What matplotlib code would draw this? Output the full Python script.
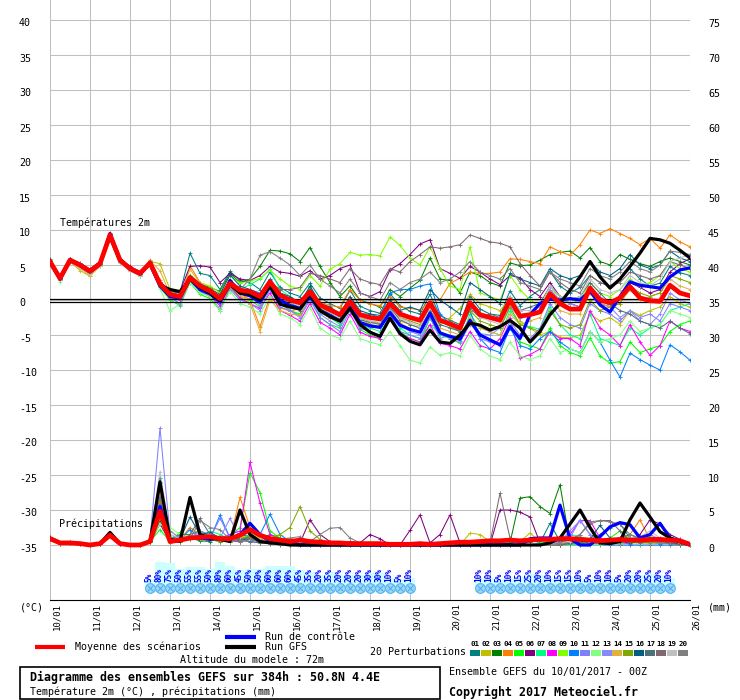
import matplotlib
matplotlib.use("Agg")
import matplotlib.pyplot as plt
import numpy as np
from matplotlib.patches import Rectangle
from matplotlib.transforms import ScaledTranslation

plt.rcParams['font.family'] = ['DejaVu Sans Mono', 'DejaVu Sans']

# ------------------------------------------------------------------ data
dates = ["10/01", "11/01", "12/01", "13/01", "14/01", "15/01", "16/01", "17/01", "18/01",
         "19/01", "20/01", "21/01", "22/01", "23/01", "24/01", "25/01", "26/01"]
temp_ticks = [-35, -30, -25, -20, -15, -10, -5, 0, 5, 10, 15, 20, 25, 30, 35, 40]
precip_ticks = [0, 5, 10, 15, 20, 25, 30, 35, 40, 45, 50, 55, 60, 65, 70, 75]
member_ids = ["01", "02", "03", "04", "05", "06", "07", "08", "09", "10",
              "11", "12", "13", "14", "15", "16", "17", "18", "19", "20"]
member_colors = ['#008080', '#c0c000', '#008000', '#ff8000', '#00ff00', '#800080', '#00ff80',
                 '#ff00ff', '#80ff00', '#0080ff', '#8080ff', '#80ff80', '#8888ff', '#e0b040',
                 '#80a800', '#006080', '#507078', '#806870', '#c0c0c0', '#808080']

# temperature (deg C), 6-hourly from 10/01 00Z, 65 values
temp_mean = [5.5, 3.1, 5.7, 5.0, 4.1, 5.2, 9.3, 5.7, 4.5, 3.8, 5.3, 2.3, 0.8, 0.5, 3.2, 2.0,
             1.3, 0.2, 2.4, 1.4, 1.2, 0.5, 2.6, 0.7, 0.0, -0.4, 1.2, -0.7, -1.4, -2.1, -0.2, -2.1,
             -2.5, -2.7, -0.5, -2.0, -2.5, -2.9, -0.4, -2.9, -3.4, -4.0, -0.4, -2.1, -2.5, -2.9, 0.0, -2.3,
             -2.1, -1.7, 0.9, -0.5, -1.3, -1.3, 1.7, 0.0, -0.4, 0.3, 1.9, 0.3, -0.1, -0.2, 2.1, 1.0, 0.6]
temp_control = [5.4, 3.0, 5.8, 4.9, 4.0, 5.1, 9.5, 5.8, 4.4, 3.7, 5.2, 2.0, 0.5, 0.3, 3.0, 1.5,
                0.9, -0.3, 2.8, 1.0, 0.6, -0.3, 2.0, 0.0, -0.8, -1.2, 0.5, -1.5, -2.2, -3.0, -1.0, -3.2,
                -3.7, -3.9, -1.8, -3.6, -4.2, -4.6, -1.9, -4.7, -5.2, -5.6, -2.9, -5.0, -5.7, -6.4, -3.8, -5.5,
                -2.1, -0.5, 0.1, 0.0, 0.2, 0.0, 1.3, -0.7, -1.7, 0.5, 2.6, 2.1, 1.9, 1.7, 3.3, 4.3, 4.6]
temp_gfs = [5.5, 3.0, 5.6, 5.0, 4.2, 5.3, 9.0, 5.6, 4.6, 3.9, 5.2, 2.1, 1.5, 1.2, 3.0, 1.8,
            1.0, -0.1, 2.2, 1.0, 0.8, 0.0, 2.0, -0.6, -1.0, -1.3, 0.8, -1.5, -2.4, -3.0, -1.2, -3.5,
            -4.6, -5.2, -2.6, -4.8, -5.9, -6.4, -4.3, -6.0, -6.2, -5.0, -3.3, -3.6, -4.3, -3.8, -2.9, -4.0,
            -6.0, -4.5, -2.1, -0.5, 1.4, 3.3, 5.5, 3.3, 1.7, 3.0, 4.8, 6.7, 8.8, 8.6, 8.1, 7.1, 6.0]

temp_m01 = [5.8, 3.0, 5.9, 5.2, 4.3, 5.3, 9.6, 5.9, 4.7, 3.9, 5.4, 2.6, 1.2, 1.0, 6.7, 3.8,
            3.5, 1.5, 4.1, 2.8, 2.5, 1.5, 4.0, 1.8, 1.0, 0.5, 2.4, 0.3, -0.5, -1.2, 1.4, -0.9,
            -1.5, -1.9, 0.9, -0.8, -1.6, -2.0, 0.8, -2.2, -2.9, -3.5, 0.6, -1.3, -2.0, -2.2, 1.3, -0.8,
            0.5, 1.5, 4.1, 2.0, 1.0, 1.8, 3.5, 2.5, 2.0, 3.0, 4.5, 3.0, 2.0, 2.4, 4.8, 3.9, 3.5]
temp_m02 = [5.3, 3.2, 5.5, 4.2, 3.4, 4.9, 9.0, 5.4, 4.3, 3.7, 5.5, 5.2, 1.5, 0.2, 2.9, 1.8,
            0.6, -0.5, 2.0, 0.5, 0.2, -0.4, 1.9, -0.3, -1.5, -2.2, 0.6, -1.0, -2.0, -3.5, -1.0, -2.8,
            -3.4, -4.0, -1.6, -3.3, -4.1, -4.6, -1.8, -3.6, -2.5, -1.2, 0.8, -0.5, -1.0, -1.5, 0.2, -3.0,
            -4.0, -5.0, -4.5, -5.3, -5.4, -5.0, -2.0, -3.0, -2.5, -3.5, -1.5, -2.2, -1.5, -1.0, 0.5, -0.5, -1.0]
temp_m03 = [5.6, 3.3, 5.9, 5.1, 4.2, 5.4, 9.4, 5.8, 4.6, 3.9, 5.4, 2.4, 0.5, 0.2, 3.3, 2.2,
            1.8, 1.2, 3.8, 2.5, 3.0, 4.8, 7.1, 7.0, 6.6, 5.5, 7.5, 4.8, 2.5, 0.5, 2.0, 0.0,
            -0.5, -1.0, 1.5, 0.5, 1.7, 2.8, 6.0, 3.0, 2.8, 1.0, 4.0, 3.5, 2.5, 2.0, 5.3, 4.9,
            5.0, 5.7, 6.5, 6.8, 7.0, 6.0, 7.5, 5.5, 5.0, 6.5, 5.8, 5.2, 4.8, 5.5, 6.0, 5.5, 5.0]
temp_m04 = [5.4, 3.0, 5.6, 4.9, 4.3, 5.0, 9.1, 5.6, 4.4, 3.6, 5.7, 2.8, 0.2, 0.1, 4.9, 2.5,
            1.9, -0.2, 2.8, 1.0, 0.0, -3.8, 0.5, -1.1, -1.6, -1.2, 1.9, -0.3, -0.8, -1.0, 1.5, 0.0,
            -0.6, -0.8, 0.5, -1.0, -1.2, -1.4, -0.2, 0.0, 2.4, 3.1, 4.0, 3.8, 3.8, 4.0, 5.9, 5.8,
            5.5, 5.2, 7.6, 6.9, 6.4, 7.9, 10.0, 9.5, 10.2, 9.5, 8.8, 7.9, 8.8, 7.4, 9.3, 8.3, 7.6]
temp_m05 = [5.2, 2.9, 5.8, 4.8, 3.9, 5.0, 9.2, 5.5, 4.3, 3.5, 5.0, 1.8, 0.0, -0.8, 2.5, 0.8,
            0.2, -1.5, 1.8, 0.2, 0.0, -1.0, 2.0, -0.5, -1.5, -2.0, 0.5, -2.5, -3.5, -4.0, -1.0, -4.2,
            -5.0, -5.5, -2.5, -4.5, -5.5, -6.0, -2.6, -5.0, -5.5, -6.2, -2.8, -5.0, -5.7, -6.3, -3.5, -6.0,
            -6.5, -7.0, -4.0, -6.5, -7.5, -8.0, -5.4, -8.0, -9.0, -8.8, -6.0, -7.5, -7.0, -6.5, -4.5, -3.5, -3.0]
temp_m06 = [5.6, 3.2, 5.9, 5.3, 4.4, 5.5, 9.4, 5.9, 4.8, 3.8, 5.6, 2.6, 1.4, 1.3, 4.8, 4.9,
            4.7, 2.5, 3.8, 3.0, 2.8, 3.5, 4.8, 4.0, 3.8, 3.4, 4.2, 3.0, 3.5, 4.5, 5.0, 1.0,
            0.5, 1.2, 4.3, 5.2, 6.5, 8.0, 8.6, 4.5, 3.8, 3.1, 4.8, 4.0, 3.0, 2.2, 3.5, 3.2,
            1.5, 0.5, 2.5, 0.5, -0.5, -1.0, 1.5, -0.5, -1.0, 0.5, 2.5, 1.8, 1.0, 1.5, 4.0, 5.2, 5.9]
temp_m07 = [5.3, 3.1, 5.6, 4.9, 4.0, 5.1, 9.2, 5.6, 4.4, 3.6, 5.1, 2.0, 0.6, 0.4, 3.3, 1.5,
            0.8, -0.5, 2.9, 1.5, 2.2, 3.0, 4.4, 1.5, 0.5, -0.5, 1.8, -1.8, -2.5, -3.5, -0.8, -3.5,
            -4.0, -4.5, -1.5, -4.0, -5.0, -5.5, -3.5, -4.8, -5.2, -5.8, -2.0, -4.0, -4.5, -5.0, -1.5, -3.5,
            -3.8, -4.2, -1.0, -3.5, -5.0, -5.5, -2.0, -5.5, -6.0, -6.5, -4.0, -5.0, -4.0, -3.5, -1.5, -1.0, -0.5]
temp_m08 = [5.4, 3.0, 5.7, 4.9, 4.0, 5.2, 9.3, 5.6, 4.5, 3.7, 5.3, 2.1, 0.4, 0.0, 3.0, 1.4,
            0.5, -0.8, 2.0, 0.3, -0.5, -1.2, 1.0, -1.5, -2.2, -3.0, -0.5, -3.2, -4.0, -5.0, -2.0, -4.6,
            -5.2, -5.5, -2.7, -4.8, -5.5, -6.0, -3.5, -6.2, -6.5, -7.0, -4.5, -6.5, -7.0, -5.5, -2.5, -8.3,
            -7.8, -7.0, -4.5, -5.5, -5.5, -6.5, -1.5, -4.0, -5.0, -6.5, -3.5, -6.0, -7.9, -6.5, -3.0, -4.0, -4.5]
temp_m09 = [5.5, 3.2, 5.8, 5.1, 4.2, 5.3, 9.3, 5.8, 4.6, 3.9, 5.4, 2.4, 0.9, 0.3, 3.6, 2.4,
            2.0, 1.0, 3.5, 2.4, 2.7, 3.1, 4.3, 3.0, 2.0, 1.5, 3.5, 2.0, 4.4, 5.2, 6.8, 6.4,
            6.5, 6.3, 9.0, 7.8, 6.0, 5.0, 7.6, 4.5, 2.0, 1.5, 7.6, 1.0, 0.5, 0.0, 3.5, 1.5,
            0.0, -1.0, 1.5, 0.5, -0.5, 0.0, 2.5, 1.0, 0.5, 1.5, 3.0, 2.0, 2.5, 3.5, 5.5, 4.5, 4.0]
temp_m10 = [5.5, 3.0, 5.6, 5.0, 4.1, 5.1, 9.2, 5.7, 4.5, 3.8, 5.2, 2.2, 0.7, 0.3, 3.1, 1.9,
            1.2, 0.0, 2.7, 1.2, 1.5, 1.0, 2.8, 0.5, -0.5, -1.0, 1.5, -0.5, -1.5, -2.5, -0.5, -2.0,
            -2.0, -2.5, 1.0, 1.5, 1.5, 2.0, 2.3, -2.0, -3.5, -4.5, -1.5, -5.5, -7.0, -7.5, -4.0, -6.5,
            -7.0, -5.5, -4.5, -6.0, -7.0, -7.5, -4.5, -6.0, -8.6, -11.0, -7.6, -8.5, -9.3, -10.0, -6.4, -7.4, -8.6]
temp_m11 = [5.3, 2.8, 5.5, 4.8, 3.8, 4.9, 9.0, 5.5, 4.3, 3.6, 5.1, 2.1, 0.3, -0.5, 2.8, 1.2,
            0.5, -1.3, 1.5, 0.0, -0.5, -1.5, 1.5, -1.0, -1.5, -2.5, 0.0, -2.5, -3.5, -4.5, -1.5, -4.0,
            -4.5, -5.0, -2.0, -4.5, -5.0, -5.5, -2.5, -5.5, -5.0, -5.8, -3.0, -5.5, -6.0, -6.5, -3.0, -5.0,
            -5.5, -4.0, -0.5, -2.5, -3.5, -4.0, -0.5, -1.5, -2.0, -3.0, -1.5, -2.5, -2.0, -3.0, -0.5, -1.0, -1.5]
temp_m12 = [5.4, 2.6, 5.6, 4.7, 3.6, 4.8, 8.8, 5.4, 4.2, 3.5, 5.0, 1.6, -1.6, -0.5, 2.5, 1.0,
            0.5, -1.5, 1.2, -0.5, -1.0, -2.0, 0.5, -2.0, -2.5, -3.5, -1.0, -4.0, -5.0, -5.5, -3.0, -5.5,
            -6.0, -6.4, -4.5, -6.5, -8.6, -9.0, -6.7, -7.9, -7.5, -8.0, -5.0, -7.0, -8.0, -8.5, -6.0, -8.0,
            -8.5, -8.0, -5.5, -7.5, -7.0, -7.5, -4.5, -6.0, -5.5, -5.0, -3.0, -4.5, -4.0, -3.5, -1.5, -2.0, -2.5]
temp_m13 = [5.6, 3.1, 5.8, 5.1, 4.2, 5.3, 9.5, 5.8, 4.6, 3.9, 5.4, 2.5, 0.6, -0.7, 3.0, 1.7,
            1.0, -0.2, 2.3, 1.3, 0.6, -0.8, 1.9, -0.5, -1.5, -2.3, 0.2, -2.0, -3.0, -3.8, -1.0, -3.2,
            -3.8, -4.0, -1.2, -3.5, -4.5, -5.0, -2.0, -4.5, -5.5, -6.0, -3.5, -4.8, -5.0, -4.0, -1.0, -2.5,
            -2.0, -1.5, 1.5, 0.0, -0.5, -1.0, 2.0, 0.5, -1.0, -2.5, -1.5, -3.0, -3.5, -2.0, 1.0, 0.0, -0.5]
temp_m14 = [5.2, 3.3, 5.4, 4.5, 3.5, 4.8, 9.0, 5.3, 4.2, 3.4, 5.6, 4.2, 0.8, 0.4, 4.4, 2.4,
            1.5, 0.2, 2.0, 0.8, -0.5, -4.5, 0.0, -1.5, -2.0, -2.2, 0.8, -1.5, -2.5, -3.0, -0.5, -2.5,
            -3.0, -3.5, -1.0, -3.0, -3.5, -4.0, -1.8, -4.0, -4.5, -5.0, -2.5, -4.0, -4.5, -5.0, -2.0, -3.5,
            -3.0, -2.5, 0.5, -1.5, -2.0, -2.0, 1.0, -0.5, -1.0, -0.5, 1.5, 0.0, 0.5, 1.0, 3.0, 2.0, 1.5]
temp_m15 = [5.5, 3.1, 5.6, 5.0, 4.0, 5.1, 9.2, 5.7, 4.4, 3.7, 5.2, 2.2, 0.8, 0.6, 3.1, 2.0,
            1.4, 0.4, 2.7, 1.6, 1.0, 0.0, 2.3, 0.2, -0.5, -1.2, 1.2, -1.2, -2.0, -2.8, -0.3, -2.6,
            -3.0, -3.3, -0.8, -2.5, -3.0, -3.5, -1.0, -3.0, -3.8, -4.5, -1.5, -3.0, -3.5, -4.0, -1.0, -3.5,
            -4.0, -4.5, -1.5, -3.5, -4.0, -3.5, 0.0, -1.5, -1.0, -0.5, 2.0, 1.0, 0.5, 1.0, 3.5, 3.0, 2.5]
temp_m16 = [5.7, 3.2, 5.8, 5.2, 4.3, 5.4, 9.4, 5.9, 4.7, 4.0, 5.5, 2.5, 1.0, 0.7, 3.5, 2.3,
            1.6, 0.8, 3.6, 2.0, 1.5, 0.8, 3.0, 1.0, 0.5, -0.5, 2.0, -0.5, -1.0, -2.0, 0.5, -1.5,
            -2.0, -2.2, 0.0, -1.5, -1.0, -1.5, 1.5, 0.0, -1.0, -2.0, 2.5, 1.5, 0.5, -0.5, 3.8, 3.0,
            2.5, 2.0, 4.5, 3.5, 3.0, 3.5, 5.5, 4.0, 3.5, 4.5, 6.5, 5.0, 4.5, 5.0, 7.0, 6.0, 5.5]
temp_m17 = [5.4, 2.9, 5.7, 4.9, 4.1, 5.1, 9.2, 5.6, 4.4, 3.7, 5.2, 2.1, 0.5, 0.2, 3.0, 1.6,
            1.0, -0.3, 2.5, 1.0, 0.8, 0.0, 2.2, 0.0, -0.8, -1.5, 0.8, -1.5, -2.2, -3.0, -0.5, -2.8,
            -3.2, -3.5, -1.0, -2.8, -3.5, -4.0, -1.5, -3.5, -4.0, -4.5, -1.2, -2.5, -2.0, -2.5, 0.5, -1.5,
            -1.0, -0.5, 2.0, 0.5, 0.0, 0.5, 2.5, 1.0, -0.5, -1.5, -2.0, -3.0, -3.5, -4.0, -3.0, -4.0, -4.8]
temp_m18 = [5.5, 3.1, 5.7, 5.0, 4.1, 5.2, 9.3, 5.7, 4.5, 3.8, 5.3, 2.3, 0.8, 0.5, 3.2, 2.0,
            1.3, 0.2, 2.4, 1.4, 1.2, 0.5, 2.6, 1.5, 1.5, 1.8, 3.8, 3.5, 3.0, 2.5, 4.5, 3.0,
            2.5, 2.2, 4.5, 4.0, 5.5, 6.5, 7.6, 7.4, 7.6, 7.9, 9.3, 8.8, 8.3, 8.1, 7.6, 5.2,
            3.5, 2.0, 4.0, 2.5, 1.5, 1.0, 3.5, 2.5, 2.0, 2.5, 4.0, 3.5, 3.0, 3.5, 5.5, 5.0, 4.5]
temp_m19 = [5.3, 2.8, 5.5, 4.6, 3.7, 4.9, 9.0, 5.3, 4.1, 3.5, 5.0, 2.0, 0.6, 0.4, 3.0, 1.8,
            1.1, 0.0, 2.2, 1.2, 1.0, 0.3, 2.3, 0.5, -0.3, -0.9, 1.0, -1.0, -1.8, -2.6, -0.5, -2.5,
            -3.0, -3.2, -0.8, -2.6, -3.2, -3.8, -1.0, -3.0, -3.5, -4.0, -0.5, -2.5, -3.0, -3.5, 0.5, -1.5,
            -1.5, -1.0, 2.0, 0.5, 0.0, 0.5, 3.0, 1.5, 1.0, 1.5, 3.5, 2.5, 2.0, 3.0, 5.5, 6.0, 6.5]
temp_m20 = [5.6, 3.2, 5.8, 5.1, 4.2, 5.3, 9.4, 5.8, 4.6, 3.9, 5.4, 2.4, 0.9, 0.6, 3.3, 2.1,
            1.4, 0.3, 2.5, 1.5, 3.0, 6.4, 6.9, 6.0, 5.0, 3.5, 5.0, 3.0, 2.0, 1.0, 3.0, 1.0,
            0.5, 0.0, 2.5, 1.5, 2.5, 3.0, 4.0, 2.5, 3.0, 4.0, 5.5, 4.0, 3.5, 3.0, 4.5, 2.5,
            2.0, 1.5, 4.0, 3.0, 2.5, 2.0, 4.5, 3.5, 3.0, 4.0, 5.5, 4.5, 4.0, 5.0, 7.0, 6.8, 6.5]

# precipitation (mm / 6h)
precip_mean = [0.9, 0.3, 0.3, 0.2, 0.0, 0.2, 1.4, 0.2, 0.0, 0.0, 0.5, 4.8, 0.5, 0.7, 1.0, 1.1,
               1.2, 0.9, 0.9, 1.4, 2.2, 1.4, 0.9, 0.7, 0.5, 0.7, 0.5, 0.4, 0.3, 0.3, 0.2, 0.2,
               0.2, 0.2, 0.1, 0.1, 0.1, 0.2, 0.1, 0.2, 0.3, 0.4, 0.4, 0.5, 0.6, 0.6, 0.7, 0.6,
               0.7, 0.8, 0.8, 0.9, 0.9, 0.8, 0.7, 0.6, 0.7, 0.8, 0.7, 0.7, 0.8, 0.8, 0.7, 0.6, 0.1]
precip_control = [1.0, 0.3, 0.3, 0.2, 0, 0.2, 1.4, 0.2, 0, 0, 0.5, 5.5, 0.5, 0.8, 1.0, 1.0,
                  0.8, 1.0, 0.8, 1.5, 3.1, 1.5, 0.5, 0.3, 0.2, 0, 0, 0, 0, 0, 0, 0,
                  0, 0, 0, 0, 0, 0, 0, 0, 0, 0, 0, 0, 0, 0, 0, 0,
                  0.9, 1.0, 1.0, 5.7, 0.9, 0, 0, 1.2, 2.6, 3.2, 2.9, 1.0, 1.5, 3.1, 1.0, 0.5, 0]
precip_gfs = [1.0, 0.3, 0.3, 0.2, 0, 0.2, 1.8, 0.2, 0, 0, 0.5, 9.0, 0.8, 0.5, 6.8, 1.5,
              1.0, 0.8, 0.5, 5.0, 1.5, 0.5, 0.3, 0.2, 0, 0, 0, 0, 0, 0, 0, 0,
              0, 0, 0, 0, 0, 0, 0, 0, 0, 0, 0, 0, 0, 0, 0, 0,
              0, 0, 0.3, 1.0, 3.0, 5.0, 2.5, 0.3, 0.2, 0.5, 3.6, 6.0, 4.0, 1.9, 1.0, 0.5, 0]

precip_m01 = [1.0, 0.3, 0.4, 0.2, 0, 0.3, 1.6, 0.3, 0, 0, 0.6, 9.6, 0.8, 0.5, 1.5, 2.0,
              1.2, 0.8, 0.5, 1.2, 2.0, 1.0, 0.5, 0.8, 0.3, 0.2, 0.5, 0.3, 0.2, 0, 0, 0,
              0, 0, 0, 0, 0, 0, 0, 0, 0, 0, 0, 0, 0, 0.2, 0.3, 0.5,
              0.8, 0.3, 3.1, 0.5, 0.2, 0, 0.8, 1.5, 2.5, 3.0, 1.0, 0.5, 0.3, 0.2, 0.5, 0.3, 0]
precip_m02 = [0.8, 0.2, 0.3, 0.3, 0, 0.2, 1.5, 0.2, 0, 0, 0.4, 5.5, 0.3, 0.5, 0.8, 1.5,
              0.8, 0.5, 0.7, 1.0, 1.5, 0.6, 0.3, 0.5, 0.8, 0.5, 0.3, 0.2, 0, 0, 0, 0,
              0, 0, 0, 0, 0, 0, 0, 0, 0, 0, 1.7, 1.5, 0.5, 0, 0.8, 0.5,
              1.7, 0.5, 0.3, 0, 0, 0.5, 1.0, 0.5, 0.3, 0.2, 0.5, 0.3, 0.5, 0.8, 0.5, 0.2, 0]
precip_m03 = [0.9, 0.3, 0.3, 0.2, 0, 0.2, 1.4, 0.3, 0, 0, 0.5, 3.5, 0.8, 0.5, 1.0, 0.6,
              0.5, 1.0, 0.6, 0.8, 1.2, 0.8, 1.5, 1.0, 0.5, 0.3, 0.2, 0.2, 0, 0, 0, 0,
              0, 0, 0, 0, 0, 0, 0, 0, 0, 0, 0, 0, 0, 0, 0.3, 6.7,
              6.9, 5.5, 4.5, 8.6, 0.3, 0.2, 0.5, 0.3, 0.5, 0.3, 0.8, 0.5, 0.8, 1.0, 0.5, 0.3, 0]
precip_m04 = [1.0, 0.3, 0.3, 0.2, 0, 0.2, 1.2, 0.2, 0, 0, 0.6, 7.5, 0.5, 0.8, 2.5, 1.5,
              1.0, 1.2, 0.8, 6.8, 2.5, 0.8, 0.5, 0.3, 0.2, 0.3, 0.2, 0, 0, 0, 0, 0,
              0, 0, 0, 0, 0, 0, 0, 0, 0, 0, 0, 0, 0, 0, 0, 0,
              0, 0, 0, 0.3, 0.8, 0.5, 0.3, 0.2, 0.5, 0.8, 1.5, 3.6, 0.8, 0.5, 0.3, 0.2, 0]
precip_m05 = [0.9, 0.2, 0.3, 0.2, 0, 0.2, 1.3, 0.2, 0, 0, 0.5, 2.2, 0.5, 1.8, 0.8, 1.0,
              0.8, 0.5, 1.2, 2.5, 10.3, 7.5, 2.0, 1.0, 0.8, 0.5, 0.3, 0.2, 0, 0, 0, 0,
              0, 0, 0, 0, 0, 0, 0, 0, 0, 0, 0, 0, 0, 0, 0, 0,
              0, 0, 0, 0, 0, 0, 0.3, 0.5, 1.0, 2.0, 0.8, 0.5, 1.2, 0.8, 0.5, 0.3, 0]
precip_m06 = [1.1, 0.3, 0.4, 0.2, 0, 0.3, 1.5, 0.3, 0, 0, 0.4, 3.0, 0.5, 0.8, 1.2, 0.8,
              1.5, 0.8, 0.6, 0.5, 0.8, 0.5, 0.4, 0.8, 0.5, 0.3, 3.6, 1.5, 0.5, 0, 0.5, 0.3,
              1.5, 0.9, 0, 0, 2.1, 4.3, 0.3, 1.5, 4.3, 0.3, 0, 0, 0, 5.0, 5.0, 4.7,
              4.0, 0.3, 0.2, 0.5, 0.3, 0.2, 0.5, 0.8, 0.5, 1.0, 0.8, 1.5, 3.6, 3.0, 1.5, 0.8, 0]
precip_m07 = [0.9, 0.2, 0.3, 0.3, 0, 0.2, 1.6, 0.2, 0, 0, 0.5, 4.5, 1.2, 0.8, 1.5, 1.0,
              2.0, 1.5, 0.8, 0.6, 1.0, 1.5, 0.8, 0.3, 0.5, 0.2, 0, 0, 0, 0, 0, 0,
              0, 0, 0, 0, 0, 0, 0, 0, 0, 0, 0, 0, 0, 0, 0, 0,
              0, 0.3, 0.5, 1.0, 1.5, 1.2, 0.8, 0.5, 0.3, 0.5, 1.0, 0.8, 0.5, 0.3, 0.2, 0, 0]
precip_m08 = [1.0, 0.3, 0.3, 0.2, 0, 0.2, 1.4, 0.2, 0, 0, 0.6, 6.0, 0.8, 0.5, 1.2, 1.0,
              0.8, 1.0, 1.5, 2.0, 11.8, 6.0, 1.5, 0.8, 0.5, 0.3, 0, 0, 0, 0, 0, 0,
              0, 0, 0, 0, 0, 0, 0, 0, 0, 0, 0, 0, 0, 0, 0, 0,
              0, 0, 0, 0.5, 1.5, 3.5, 3.5, 1.0, 0.5, 0.3, 0.2, 0.5, 0.8, 0.5, 0.3, 0.2, 0]
precip_m09 = [0.9, 0.2, 0.3, 0.2, 0, 0.2, 1.3, 0.2, 0, 0, 0.4, 4.0, 0.8, 0.5, 0.8, 1.5,
              1.0, 0.8, 1.2, 1.0, 1.5, 1.0, 0.5, 0.3, 0.2, 0.3, 0.2, 0, 0, 0, 0, 0,
              0, 0, 0, 0, 0, 0, 0, 0, 0, 0, 0, 0, 0, 0, 0, 0,
              0, 0, 0.2, 0.5, 0.3, 0.2, 0.5, 0.3, 0.2, 0.5, 0.3, 0.2, 0.3, 0.5, 0.3, 0.2, 0]
precip_m10 = [1.0, 0.3, 0.3, 0.2, 0, 0.2, 1.5, 0.2, 0, 0, 0.5, 5.0, 0.5, 0.8, 2.2, 1.0,
              0.8, 4.3, 1.0, 1.5, 1.2, 1.5, 4.4, 1.5, 0.5, 0.2, 0, 0, 0, 0, 0, 0,
              0, 0, 0, 0, 0, 0, 0, 0, 0, 0, 0, 0, 0, 0, 0, 0,
              0, 0, 0, 0, 0, 0, 0, 0, 0, 0, 0, 0, 0, 0, 0, 0, 0]
precip_m11 = [0.9, 0.2, 0.3, 0.2, 0, 0.2, 1.3, 0.2, 0, 0, 0.8, 16.7, 1.5, 0.8, 1.2, 1.5,
              1.0, 3.8, 1.0, 0.8, 0.5, 0.3, 0.8, 0.5, 0.3, 0.2, 0, 0, 0, 0, 0, 0,
              0, 0, 0, 0, 0, 0, 0, 0, 0, 0, 0, 0, 0, 0, 0, 0,
              0, 0, 0, 0.8, 1.0, 3.6, 1.5, 0.8, 0.5, 0.3, 0.5, 1.0, 0.8, 0.5, 0.3, 0.2, 0]
precip_m12 = [0.8, 0.2, 0.3, 0.2, 0, 0.2, 1.2, 0.2, 0, 0, 0.5, 3.0, 2.5, 1.5, 1.0, 0.8,
              1.2, 0.8, 1.0, 1.5, 1.8, 0.8, 0.5, 0.8, 1.0, 0.5, 0.3, 0.2, 0, 0, 0, 0,
              0, 0, 0, 0, 0, 0, 0, 0, 0, 0, 0, 0, 0, 0, 0, 0,
              0, 0, 0, 0, 0, 0, 0, 0, 0.3, 0.5, 0.3, 0.2, 0.5, 0.3, 0.2, 0, 0]
precip_m13 = [1.0, 0.3, 0.3, 0.2, 0, 0.2, 1.4, 0.2, 0, 0, 0.6, 7.0, 0.8, 1.2, 1.0, 2.0,
              1.5, 1.0, 3.8, 1.0, 0.8, 0.5, 0.3, 0.2, 0, 0, 0, 0, 0, 0, 0, 0,
              0, 0, 0, 0, 0, 0, 0, 0, 0, 0, 0, 0, 0, 0, 0, 0,
              0, 0, 0, 0.5, 2.0, 3.5, 1.5, 0.5, 0.3, 0.2, 0.5, 0.8, 1.5, 0.8, 0.3, 0.2, 0]
precip_m14 = [1.0, 0.3, 0.3, 0.2, 0, 0.2, 1.5, 0.2, 0, 0, 0.5, 8.0, 0.5, 0.8, 1.5, 1.0,
              1.2, 0.8, 1.0, 1.5, 2.0, 0.8, 0.5, 0.3, 0.2, 0, 0, 0, 0, 0, 0, 0,
              0, 0, 0, 0, 0, 0, 0, 0, 0, 0, 0, 0, 0, 0, 0, 0,
              0, 0, 0, 0, 0.3, 0.5, 0.8, 0.5, 0.3, 0.2, 0.5, 0.3, 0.2, 0.3, 0.5, 0.3, 0]
precip_m15 = [0.9, 0.2, 0.3, 0.2, 0, 0.2, 1.4, 0.2, 0, 0, 0.4, 6.5, 0.5, 0.5, 0.8, 1.0,
              0.8, 0.5, 0.8, 1.0, 1.2, 0.8, 1.0, 1.5, 2.5, 5.5, 2.0, 0.8, 0.3, 0, 0, 0,
              0, 0, 0, 0, 0, 0, 0, 0, 0, 0, 0, 0, 0, 0, 0, 0,
              0, 0, 0, 0, 0.3, 0.5, 0.8, 0.5, 0.3, 0.5, 0.8, 0.5, 0.3, 0.8, 1.0, 0.5, 0]
precip_m16 = [1.0, 0.3, 0.4, 0.2, 0, 0.3, 1.4, 0.3, 0, 0, 0.6, 9.0, 0.8, 0.8, 4.0, 1.5,
              1.8, 1.0, 1.2, 0.8, 0.8, 0.5, 0.3, 0.2, 0, 0, 0, 0, 0, 0, 0, 0,
              0, 0, 0, 0, 0, 0, 0, 0, 0, 0, 0, 0, 0, 0, 0, 0,
              0.5, 0.8, 1.0, 0.5, 0.3, 0.5, 0.8, 2.8, 1.0, 0.5, 0.3, 0.5, 0.8, 0.5, 0.3, 0.2, 0]
precip_m17 = [1.0, 0.3, 0.3, 0.2, 0, 0.2, 1.4, 0.2, 0, 0, 0.6, 8.5, 0.8, 1.5, 1.5, 3.8,
              1.5, 1.0, 0.8, 0.6, 0.5, 0.3, 0.2, 0, 0, 0, 0, 0, 0, 0, 0, 0,
              0, 0, 0, 0, 0, 0, 0, 0, 0, 0, 0, 0, 0, 0, 0, 0,
              0, 0, 0, 0, 0.2, 0.5, 0.3, 0.2, 0.5, 1.0, 1.5, 1.0, 0.5, 0.8, 0.5, 0.3, 0]
precip_m18 = [0.9, 0.2, 0.3, 0.2, 0, 0.2, 1.3, 0.2, 0, 0, 0.5, 6.8, 0.5, 0.8, 1.0, 0.8,
              1.0, 0.6, 0.5, 0.8, 1.0, 0.6, 0.4, 0.3, 0.2, 0, 0, 0, 0, 0, 0, 0,
              0, 0, 0, 0, 0, 0, 0, 0, 0, 0, 0, 0, 0.3, 7.4, 1.0, 0.3,
              0, 0, 0, 0, 0.5, 1.5, 3.0, 3.5, 3.5, 2.0, 0.5, 0.3, 0.5, 0.3, 0.2, 0, 0]
precip_m19 = [1.0, 0.3, 0.4, 0.2, 0, 0.3, 1.6, 0.3, 0, 0, 0.8, 10.5, 1.5, 1.0, 1.2, 1.0,
              1.5, 0.8, 0.6, 1.2, 2.5, 1.0, 0.5, 0.3, 0.2, 0, 0, 0, 0, 0, 0, 0,
              0, 0, 0, 0, 0, 0, 0, 0, 0, 0, 0, 0, 0, 0, 0, 0,
              0, 0, 0, 0.3, 0.5, 0.8, 0.5, 0.3, 0.5, 0.8, 1.0, 1.2, 2.0, 1.0, 0.5, 0.3, 0]
precip_m20 = [1.1, 0.3, 0.3, 0.2, 0, 0.2, 1.5, 0.2, 0, 0, 0.7, 8.8, 2.0, 1.0, 0.8, 3.5,
              2.5, 2.2, 0.8, 0.5, 0.8, 0.5, 0.3, 0.8, 1.0, 1.2, 0.5, 1.5, 2.4, 2.5, 1.0, 0.3,
              0, 0, 0, 0, 0, 0, 0, 0, 0, 0, 0, 0, 0, 0, 0, 0,
              0, 0, 0, 0.3, 0.8, 1.5, 3.3, 3.5, 3.3, 3.0, 1.5, 0.8, 0.5, 0.3, 0.5, 0.3, 0]

# snow probabilities (%) per 6-h step
prob_first_step_1 = 10
prob_values_1 = [5, 80, 75, 50, 55, 55, 50, 80, 60, 45, 50, 50, 60, 60, 60, 45, 35, 20, 35,
                 20, 20, 20, 30, 30, 10, 5, 10]
prob_first_step_2 = 43
prob_values_2 = [10, 10, 5, 10, 15, 25, 20, 10, 15, 15, 10, 5, 10, 10, 5, 20, 20, 25, 20, 10]

temp_members = [temp_m01, temp_m02, temp_m03, temp_m04, temp_m05, temp_m06, temp_m07, temp_m08,
                temp_m09, temp_m10, temp_m11, temp_m12, temp_m13, temp_m14, temp_m15, temp_m16,
                temp_m17, temp_m18, temp_m19, temp_m20]
precip_members = [precip_m01, precip_m02, precip_m03, precip_m04, precip_m05, precip_m06,
                  precip_m07, precip_m08, precip_m09, precip_m10, precip_m11, precip_m12,
                  precip_m13, precip_m14, precip_m15, precip_m16, precip_m17, precip_m18,
                  precip_m19, precip_m20]

# ------------------------------------------------------------------ figure
W, H = 740, 700
fig = plt.figure(figsize=(W / 100, H / 100), dpi=100)
ax = fig.add_axes([50 / W, 100 / H, 640 / W, 600 / H])
TL = 300 / 7.0
ax.set_xlim(0, 16)
ax.set_ylim(-TL, TL)
ax2 = ax.twinx()
ax2.set_ylim(-TL + 35, TL + 35)   # precipitation 0 mm aligned with -35 C

for s in ax.spines.values():
    s.set_visible(False)
for s in ax2.spines.values():
    s.set_visible(False)
ax.spines['bottom'].set_visible(True)
ax.spines['bottom'].set_color('black')
ax.spines['bottom'].set_linewidth(0.8)

grid_c = '#c0c0c0'
for v in temp_ticks:
    ax.axhline(v, color=grid_c, lw=0.75, zorder=1)
for d in range(len(dates)):
    ax.axvline(d, color=grid_c, lw=0.75, zorder=1)

px = 1 / 100.0
ax.set_yticks(temp_ticks, [str(v) for v in temp_ticks])
ax.tick_params(axis='y', length=0, pad=31 * 0.72, labelsize=7.2)
for lbl in ax.get_yticklabels():
    lbl.set_horizontalalignment('left')
    lbl.set_transform(lbl.get_transform() + ScaledTranslation(0, -2.5 * px, fig.dpi_scale_trans))
ax2.set_yticks(precip_ticks, [str(v) for v in precip_ticks])
ax2.tick_params(axis='y', length=0, pad=18 * 0.72, labelsize=7.2)
for lbl in ax2.get_yticklabels():
    lbl.set_transform(lbl.get_transform() + ScaledTranslation(0, -2.5 * px, fig.dpi_scale_trans))
ax.set_xticks(range(len(dates)), dates)
ax.tick_params(axis='x', length=0, pad=3 * 0.72, labelsize=6.5, labelrotation=90)
for lbl in ax.get_xticklabels():
    lbl.set_horizontalalignment('left')
    lbl.set_verticalalignment('top')
    lbl.set_transform(lbl.get_transform() + ScaledTranslation(2 * px, 0, fig.dpi_scale_trans))

n = len(temp_mean)
t = np.arange(n) * 0.25   # days since 10/01 00Z

for vals, c in zip(temp_members, member_colors):
    ax.plot(t, vals, color=c, lw=0.75, marker='+', ms=3, mew=0.6, zorder=3)
for vals, c in zip(precip_members, member_colors):
    ax2.plot(t, vals, color=c, lw=0.75, marker='+', ms=3, mew=0.6, zorder=3)

# 0 C double line
ax.axhline(0.18, color='black', lw=0.9, zorder=4)
ax.axhline(-0.22, color='black', lw=0.9, zorder=4)

ax.plot(t, temp_control, color='#0000ff', lw=2.3, zorder=5)
ax.plot(t, temp_gfs, color='black', lw=2.3, zorder=6)
ax.plot(t, temp_mean, color='#ff0000', lw=3.4, zorder=7)
ax2.plot(t, precip_control, color='#0000ff', lw=2.3, zorder=5)
ax2.plot(t, precip_gfs, color='black', lw=2.3, zorder=6)
ax2.plot(t, precip_mean, color='#ff0000', lw=3.4, zorder=7)

# snow probability band
y_label_bottom = (300 - 582) / 7.0
y_flake = (300 - 588) / 7.0
y_band_bottom = (300 - 592) / 7.0
for first, vals in ((prob_first_step_1, prob_values_1), (prob_first_step_2, prob_values_2)):
    for i, p in enumerate(vals):
        xc = (first + i) * 0.25
        h = (12 + 0.23 * p) / 7.0
        ax.add_patch(Rectangle((xc - 0.125, y_band_bottom), 0.25, h, facecolor='#ccffff',
                               edgecolor='none', zorder=2))
        ax.text(xc - 0.02, y_label_bottom, f"{p}%", rotation=90, ha='center', va='bottom',
                fontsize=5.6, fontweight='bold', color='#0000ff', zorder=9, clip_on=False)
    xs = (first + np.arange(len(vals))) * 0.25
    ax.plot(xs, np.full(len(vals), y_flake), ls='none', marker='o', ms=7.0, mfc='#9ad9f7',
            mec='#5ab4ee', mew=0.8, zorder=8)
    ax.plot(xs, np.full(len(vals), y_flake), ls='none', marker='x', ms=4.0, color='#4aa6ec',
            mew=0.7, zorder=8)

# ------------------------------------------------------------------ overlay (pixel coordinates)
ov = fig.add_axes([0, 0, 1, 1], zorder=10)
ov.set_xlim(0, W)
ov.set_ylim(H, 0)
ov.axis('off')
ov.patch.set_visible(False)

fs = 7.2
ov.text(60, 223, "Températures 2m", fontsize=fs, va='center', ha='left')
ov.text(59, 524, "Précipitations", fontsize=fs, va='center', ha='left')
ov.text(20, 607, "(°C)", fontsize=fs, va='center', ha='left')
ov.text(708, 607, "(mm)", fontsize=fs, va='center', ha='left')

ov.plot([35, 65], [647, 647], color='#ff0000', lw=3.0, solid_capstyle='butt')
ov.text(75, 647, "Moyenne des scénarios", fontsize=fs, va='center', ha='left')
ov.plot([225, 256], [637, 637], color='#0000ff', lw=3.0, solid_capstyle='butt')
ov.text(265, 637, "Run de contrôle", fontsize=fs, va='center', ha='left')
ov.plot([225, 256], [647, 647], color='black', lw=3.0, solid_capstyle='butt')
ov.text(265, 647, "Run GFS", fontsize=fs, va='center', ha='left')
ov.text(180, 660, "Altitude du modele : 72m", fontsize=fs, va='center', ha='left')

ov.add_patch(Rectangle((20, 667), 420, 32, facecolor='none', edgecolor='black', lw=1.2))
ov.text(30, 677.5, "Diagramme des ensembles GEFS sur 384h : 50.8N 4.4E", fontsize=8.4,
        fontweight='bold', va='center', ha='left')
ov.text(30, 692, "Température 2m (°C) , précipitations (mm)", fontsize=fs, va='center', ha='left')

ov.text(370, 652, "20 Perturbations", fontsize=fs, va='center', ha='left')
for i, (mid, c) in enumerate(zip(member_ids, member_colors)):
    x0 = 470 + 10.96 * i
    ov.add_patch(Rectangle((x0, 650), 10, 6, facecolor=c, edgecolor='none'))
    ov.text(x0 + 5, 643.5, mid, fontsize=5.4, fontweight='bold', va='center', ha='center')

ov.text(449, 672, "Ensemble GEFS du 10/01/2017 - 00Z", fontsize=fs, va='center', ha='left')
ov.text(449, 692, "Copyright 2017 Meteociel.fr", fontsize=8.4, fontweight='bold',
        va='center', ha='left')

fig.savefig("out.png", dpi=100)
